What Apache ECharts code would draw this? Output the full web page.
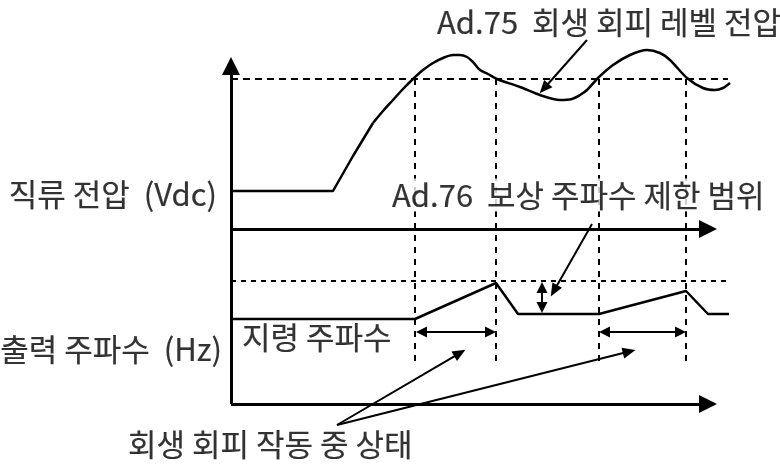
<!DOCTYPE html>
<html>
<head>
<meta charset="utf-8">
<script src="https://cdn.jsdelivr.net/npm/echarts@6/dist/echarts.min.js"></script>
<style>
html, body { margin: 0; padding: 0; background: #fff; }
#chart { width: 780px; height: 465px; }
</style>
</head>
<body>
<div id="chart"></div>
<script>
// diagram space = 780 x 465, y grows downward
// DC bus voltage trace: flat, straight ramp, then the wavy part
const vdcRamp = [[231, 191], [333, 191], [353, 156], [373, 123]];
const vdcWave = [[373, 123], [383, 111], [393, 100], [403, 89], [413, 79], [423, 70], [433, 63],
  [443, 58], [453, 55], [460, 55], [467, 57], [473, 62], [480, 70], [488, 74], [497, 79],
  [520, 87], [540, 95], [560, 100], [572, 99], [580, 95], [587, 90], [598, 78], [613, 65],
  [630, 55], [647, 50], [660, 53], [670, 60], [687, 78], [703, 88], [715, 90], [723, 88], [730, 83]];
// output frequency trace
const hzTrace = [[231, 319], [415, 319], [496, 283], [518, 314], [599, 314], [686, 291], [708, 314], [729, 314]];

const vdcLevel = 79;     // Ad.75 level
const hzLimit = 281;     // Ad.76 limit
const crossTimes = [415, 496, 599, 686];
const crossSpan = [79, 365];

// axes: [from, to] with arrow at "to"
const axisSegs = [
  [[231, 404], [231, 57]],
  [[231, 229], [717, 229]],
  [[231, 404], [717, 404]]
];
// pointer arrows [from, tip]
const pointerArrows = [
  [[587, 40], [540, 93]],
  [[592, 224], [551, 296]],
  [[337, 425], [465, 350]],
  [[337, 425], [635, 350]]
];
// double-headed arrows
const spanArrows = [
  [[542, 282], [542, 313]],
  [[416, 332], [496, 332]],
  [[599, 332], [686, 332]]
];

const labels = [
  { name: 'Ad.75  회생 회피 레벨 전압', value: [437, 22], align: 'left' },
  { name: 'Ad.76  보상 주파수 제한 범위', value: [390, 195], align: 'left', bg: true },
  { name: '직류 전압  (Vdc)', value: [217, 194], align: 'right' },
  { name: '출력 주파수  (Hz)', value: [222, 349], align: 'right' },
  { name: '지령 주파수', value: [242, 337], align: 'left' },
  { name: '회생 회피 작동 중 상태', value: [128, 444], align: 'left' }
];

// pull a point back toward "from" so a centered arrow head ends at the tip
function pull(from, to, d) {
  const dx = to[0] - from[0], dy = to[1] - from[1];
  const len = Math.sqrt(dx * dx + dy * dy);
  return [to[0] - dx / len * d, to[1] - dy / len * d];
}

const chart = echarts.init(document.getElementById('chart'));

const black = '#000';
const series = [];

function lineSeries(data, width, dashed, smooth) {
  return {
    type: 'line',
    data: data,
    smooth: smooth || false,
    symbol: 'none',
    silent: true,
    lineStyle: { color: black, width: width, type: dashed ? dashed : 'solid' },
    z: 3
  };
}

series.push(lineSeries(vdcRamp, 2.5));
series.push(lineSeries(vdcWave, 2.5, null, 0.3));
series.push(lineSeries(hzTrace, 2.5));
series.push(lineSeries([[231, vdcLevel], [728, vdcLevel]], 2, [7, 5]));
series.push(lineSeries([[231, hzLimit], [727, hzLimit]], 2, [5, 5]));
crossTimes.forEach(function (x) {
  series.push(lineSeries([[x, crossSpan[0]], [x, crossSpan[1]]], 2, [6, 6]));
});

// axes with arrow heads
series.push({
  type: 'lines',
  coordinateSystem: 'cartesian2d',
  silent: true,
  symbol: ['none', 'triangle'],
  symbolSize: [[18, 18], [18, 18]],
  lineStyle: { color: black, width: 3, opacity: 1 },
  itemStyle: { color: black },
  data: axisSegs.map(function (s) { return { coords: [s[0], pull(s[0], s[1], 9)] }; }),
  z: 4
});

series.push({
  type: 'lines',
  coordinateSystem: 'cartesian2d',
  silent: true,
  symbol: ['none', 'triangle'],
  symbolSize: [[11, 13], [11, 13]],
  lineStyle: { color: black, width: 2, opacity: 1 },
  data: pointerArrows.map(function (s) { return { coords: [s[0], pull(s[0], s[1], 6)] }; }),
  z: 4
});

series.push({
  type: 'lines',
  coordinateSystem: 'cartesian2d',
  silent: true,
  symbol: ['triangle', 'triangle'],
  symbolSize: [[11, 11], [11, 11]],
  lineStyle: { color: black, width: 2, opacity: 1 },
  data: spanArrows.map(function (s) {
    return { coords: [pull(s[1], s[0], 5.5), pull(s[0], s[1], 5.5)] };
  }),
  z: 4
});

series.push({
  type: 'scatter',
  silent: true,
  symbolSize: 1,
  itemStyle: { color: 'rgba(0,0,0,0)' },
  z: 10,
  data: labels.map(function (l) {
    return {
      name: l.name,
      value: l.value,
      label: {
        show: true,
        position: 'inside',
        formatter: '{b}',
        align: l.align,
        verticalAlign: 'middle',
        color: black,
        fontSize: 31,
        fontFamily: '"Noto Sans CJK KR", "Noto Sans", sans-serif',
        textBorderColor: black,
        textBorderWidth: 0.2,
        backgroundColor: l.bg ? '#fff' : 'transparent',
        padding: l.bg ? [1, 2] : 0
      }
    };
  })
});

chart.setOption({
  animation: false,
  backgroundColor: '#fff',
  grid: { left: 0, right: 0, top: 0, bottom: 0 },
  xAxis: { type: 'value', min: 0, max: 780, show: false },
  yAxis: { type: 'value', min: 0, max: 465, inverse: true, show: false },
  series: series
});
</script>
</body>
</html>
